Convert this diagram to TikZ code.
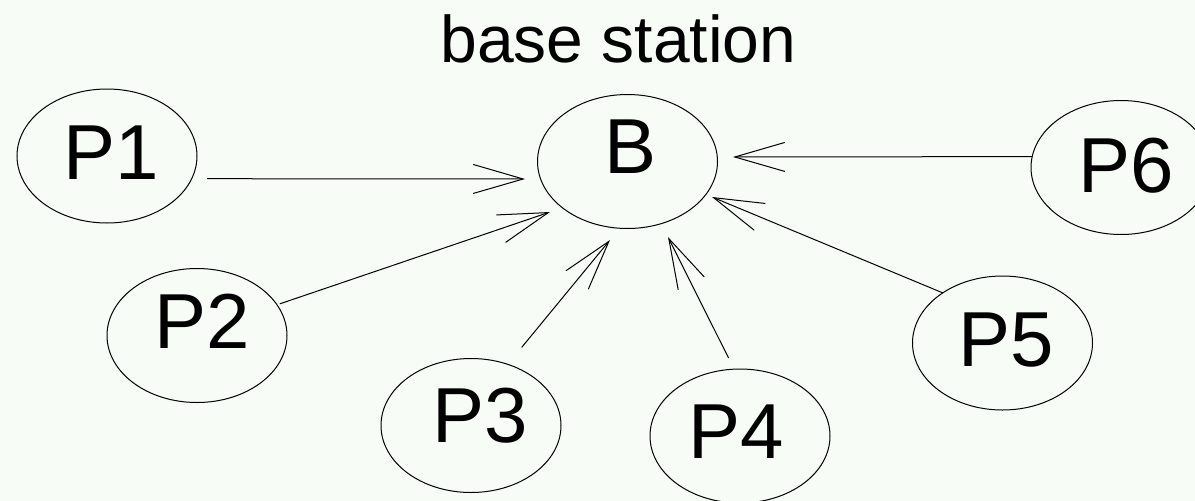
\documentclass[tikz,border=0pt]{standalone}
\usepackage{fontspec}
\setmainfont{Liberation Sans}
\usetikzlibrary{shapes.geometric,arrows.meta}
\definecolor{bgcol}{RGB}{247,252,247}
\newcommand\pbigfont{\fontsize{78}{80}\selectfont}
\newcommand\ptitlefont{\fontsize{66}{70}\selectfont}
\tikzset{
  pnode/.style={ellipse, draw, line width=1pt, minimum width=180pt, minimum height=134pt,
    inner sep=0pt, outer sep=0pt, font=\pbigfont, text height=56pt},
  arr/.style={-{Straight Barb[length=50pt,width=29pt]}, line width=1pt}
}
\begin{document}
\begin{tikzpicture}[x=1pt,y=-1pt]
\useasboundingbox (0,0) rectangle (1195,501);
\clip (0,0) rectangle (1195,501);
\fill[bgcol] (0,0) rectangle (1195,501);

\node[anchor=base, font=\ptitlefont, inner sep=0pt] (title) at (618.5,62) {base station};

\node[pnode, text depth=32pt] (B)  at (627.5,161.5) {\hspace*{7pt}B};
\node[pnode, text depth=10pt] (P1) at (107,156)     {\hspace*{9pt}P1};
\node[pnode, text depth=31pt] (P2) at (197,335.5)   {\hspace*{11pt}P2};
\node[pnode, text depth=22pt] (P3) at (471,425.5)   {\hspace*{18pt}P3};
\node[pnode, text depth=11pt] (P4) at (740,436)     {P4\hspace*{7pt}};
\node[pnode, text depth=9pt]  (P5) at (1002.5,343)  {\hspace*{7pt}P5};
\node[pnode, text depth=6pt]  (P6) at (1121,167.5)  {\hspace*{10pt}P6};

\coordinate (t1) at (525,179);
\coordinate (t2) at (550,212);
\coordinate (t3) at (610,240);
\coordinate (t4) at (668,237);
\coordinate (t5) at (712,197);
\coordinate (t6) at (733,157);

\draw[arr, shorten <=15.5pt] (P1.-15.2) -- (t1);
\draw[arr, shorten <=3pt] (P2.21.4) -- (t2);
\draw[arr, shorten <=22pt] (P3.59) -- (t3);
\draw[arr, shorten <=12.5pt] (P4.95.5) -- (t4);
\draw[arr] (P5.140.4) -- (t5);
\draw[arr] (P6.173.3) -- (t6);
\end{tikzpicture}
\end{document}
